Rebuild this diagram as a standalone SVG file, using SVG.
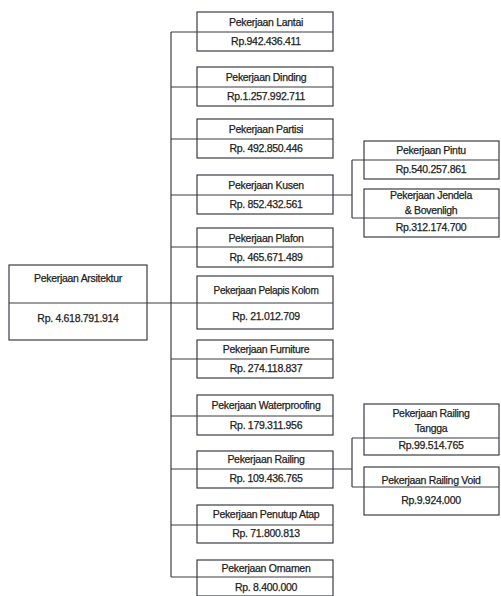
<svg xmlns="http://www.w3.org/2000/svg" width="501" height="596" viewBox="0 0 501 596">
<style>
.b{fill:none;stroke:#3a3d45;stroke-width:1.2}
.c{fill:none;stroke:#3a3d45;stroke-width:1.2}
text{font-family:"Liberation Sans",Arial,sans-serif;font-size:10.5px;fill:#1e1e22;stroke:#1e1e22;stroke-width:0.25;text-anchor:middle;letter-spacing:-0.3px}
</style>
<rect width="501" height="596" fill="#ffffff"/>
<g id="connectors">
<path class="c" d="M171 32V577"/>
<path class="c" d="M147 303H197"/>
<path class="c" d="M171 32H197M171 87H197M171 139H197M171 195H197M171 247H197M171 359H197M171 416H197M171 469H197M171 525H197M171 577H197"/>
<path class="c" d="M333 195H352M352 160V218M352 160H364M352 218H364"/>
<path class="c" d="M333 469H352M352 438V487M352 438H364M352 487H364"/>
</g>
<g id="arsitektur"><rect class="b" x="9" y="265" width="138" height="75"/><path class="b" d="M9 303H147"/><text x="78" y="282">Pekerjaan Arsitektur</text><text x="78" y="322">Rp. 4.618.791.914</text></g>
<g id="lantai"><rect class="b" x="197" y="12" width="136" height="39"/><path class="b" d="M197 32H333"/><text x="266" y="26">Pekerjaan Lantai</text><text x="266" y="45">Rp.942.436.411</text></g>
<g id="dinding"><rect class="b" x="197" y="67" width="136" height="39"/><path class="b" d="M197 87H333"/><text x="266" y="81">Pekerjaan Dinding</text><text x="266" y="100">Rp.1.257.992.711</text></g>
<g id="partisi"><rect class="b" x="197" y="119" width="136" height="39"/><path class="b" d="M197 139H333"/><text x="266" y="133">Pekerjaan Partisi</text><text x="266" y="152">Rp. 492.850.446</text></g>
<g id="kusen"><rect class="b" x="197" y="175" width="136" height="39"/><path class="b" d="M197 195H333"/><text x="266" y="189">Pekerjaan Kusen</text><text x="266" y="208">Rp. 852.432.561</text></g>
<g id="plafon"><rect class="b" x="197" y="228" width="136" height="39"/><path class="b" d="M197 247H333"/><text x="266" y="242">Pekerjaan Plafon</text><text x="266" y="261">Rp. 465.671.489</text></g>
<g id="pelapis"><rect class="b" x="197" y="276" width="136" height="53"/><path class="b" d="M197 303H333"/><text x="266" y="294" style="font-size:10px">Pekerjaan Pelapis Kolom</text><text x="266" y="320">Rp. 21.012.709</text></g>
<g id="furniture"><rect class="b" x="197" y="340" width="136" height="38"/><path class="b" d="M197 359H333"/><text x="266" y="353">Pekerjaan Furniture</text><text x="266" y="372">Rp. 274.118.837</text></g>
<g id="waterproofing"><rect class="b" x="197" y="395" width="136" height="40"/><path class="b" d="M197 416H333"/><text x="266" y="409">Pekerjaan Waterproofing</text><text x="266" y="429">Rp. 179.311.956</text></g>
<g id="railing"><rect class="b" x="197" y="451" width="136" height="37"/><path class="b" d="M197 469H333"/><text x="266" y="463">Pekerjaan Railing</text><text x="266" y="482">Rp. 109.436.765</text></g>
<g id="penutup"><rect class="b" x="197" y="505" width="136" height="38"/><path class="b" d="M197 525H333"/><text x="266" y="518">Pekerjaan Penutup Atap</text><text x="266" y="537">Rp. 71.800.813</text></g>
<g id="ornamen"><rect class="b" x="197" y="560" width="136" height="36"/><path class="b" d="M197 577H333"/><text x="266" y="572">Pekerjaan Ornamen</text><text x="266" y="591">Rp. 8.400.000</text></g>
<g id="pintu"><rect class="b" x="364" y="141" width="135" height="38"/><path class="b" d="M364 160H499"/><text x="431" y="154">Pekerjaan Pintu</text><text x="431" y="173">Rp.540.257.861</text></g>
<g id="jendela"><rect class="b" x="364" y="189" width="135" height="48"/><path class="b" d="M364 218H499"/><text x="431" y="199">Pekerjaan Jendela</text><text x="431" y="214">&amp; Bovenligh</text><text x="431" y="231">Rp.312.174.700</text></g>
<g id="railing-tangga"><rect class="b" x="364" y="404" width="135" height="51"/><path class="b" d="M364 438H499"/><text x="431" y="417">Pekerjaan Railing</text><text x="431" y="432">Tangga</text><text x="431" y="449">Rp.99.514.765</text></g>
<g id="railing-void"><rect class="b" x="364" y="467" width="135" height="48"/><path class="b" d="M364 487H499"/><text x="431" y="484">Pekerjaan Railing Void</text><text x="431" y="504">Rp.9.924.000</text></g>
</svg>
